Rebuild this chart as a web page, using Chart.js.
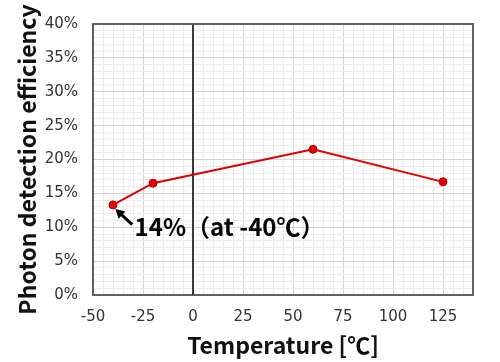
<!DOCTYPE html>
<html>
<head>
<meta charset="utf-8">
<script src="https://cdn.jsdelivr.net/npm/chart.js@4/dist/chart.umd.min.js"></script>
<style>
  html, body { margin: 0; padding: 0; background: #fff; }
</style>
</head>
<body>
<canvas id="grafico" width="500" height="362"></canvas>
<script>
// values
const temperatures = [-40, -20, 60, 125];
const efficiency = [13.3, 16.5, 21.5, 16.7];   // %
const xTickLabels = [-50, -25, 0, 25, 50, 75, 100, 125];
const yTickLabels = [0, 5, 10, 15, 20, 25, 30, 35, 40];

// note next to the first point (data coordinates)
const noteText = '14%（at -40℃）';
const notePos = { x: -29.2, y: 10.0 };
const arrowFrom = { x: -30.4, y: 10.4 };
const arrowTo = { x: -38.8, y: 12.7 };

// dark zero line and top/right frame, drawn over the light grid
const framePlugin = {
    id: 'frame',
    beforeDatasetsDraw(chart) {
        const { ctx, chartArea: a, scales: { x } } = chart;
        const x0 = Math.round(x.getPixelForValue(0));
        ctx.save();
        ctx.lineWidth = 2;
        ctx.strokeStyle = '#3a3a3a';
        ctx.beginPath();
        ctx.moveTo(x0, a.top);
        ctx.lineTo(x0, a.bottom);
        ctx.stroke();
        ctx.strokeStyle = '#606060';
        ctx.beginPath();
        ctx.moveTo(a.left, a.top);
        ctx.lineTo(a.right, a.top);
        ctx.lineTo(a.right, a.bottom);
        ctx.stroke();
        ctx.restore();
    }
};

const notePlugin = {
    id: 'note',
    afterDatasetsDraw(chart) {
        const { ctx, scales: { x, y } } = chart;
        const x1 = x.getPixelForValue(arrowFrom.x), y1 = y.getPixelForValue(arrowFrom.y);
        const x2 = x.getPixelForValue(arrowTo.x), y2 = y.getPixelForValue(arrowTo.y);
        const ang = Math.atan2(y2 - y1, x2 - x1);
        ctx.save();
        ctx.strokeStyle = '#000';
        ctx.fillStyle = '#000';
        ctx.lineWidth = 3;
        ctx.beginPath();
        ctx.moveTo(x1, y1);
        ctx.lineTo(x2 - 5 * Math.cos(ang), y2 - 5 * Math.sin(ang));
        ctx.stroke();
        ctx.beginPath();
        ctx.moveTo(x2, y2);
        ctx.lineTo(x2 - 9 * Math.cos(ang) + 5 * Math.sin(ang), y2 - 9 * Math.sin(ang) - 5 * Math.cos(ang));
        ctx.lineTo(x2 - 9 * Math.cos(ang) - 5 * Math.sin(ang), y2 - 9 * Math.sin(ang) + 5 * Math.cos(ang));
        ctx.closePath();
        ctx.fill();

        ctx.font = 'bold 24px "Noto Sans CJK JP", "Noto Sans", sans-serif';
        ctx.textAlign = 'left';
        ctx.textBaseline = 'middle';
        ctx.fillText(noteText, x.getPixelForValue(notePos.x), y.getPixelForValue(notePos.y));
        ctx.restore();
    }
};

const titleFont = { family: '"Noto Sans CJK JP", "Noto Sans", sans-serif', size: 23, weight: 'bold', lineHeight: 1.2 };
const tickFont = { family: '"DejaVu Sans", Verdana, sans-serif', size: 15 };

const ctx = document.getElementById('grafico').getContext('2d');
new Chart(ctx, {
    type: 'line',
    data: {
        datasets: [{
            label: 'Photon detection efficiency',
            data: temperatures.map((t, i) => ({ x: t, y: efficiency[i] })),
            borderColor: '#e00000',
            backgroundColor: '#e60000',
            pointBorderColor: '#b00000',
            pointBorderWidth: 1,
            pointRadius: 4,
            borderWidth: 2,
            tension: 0,
            fill: false
        }]
    },
    options: {
        responsive: false,
        animation: false,
        devicePixelRatio: 1,
        layout: { padding: { top: 21, right: 27, left: 0, bottom: 0 } },
        plugins: {
            legend: { display: false },
            tooltip: { enabled: false }
        },
        scales: {
            x: {
                type: 'linear',
                min: -50,
                max: 140,
                afterFit: s => { s.height = 67; },
                ticks: {
                    stepSize: 5,
                    autoSkip: false,
                    maxRotation: 0,
                    padding: 13,
                    color: '#333',
                    font: tickFont,
                    callback: v => xTickLabels.includes(v) ? String(v) : ''
                },
                grid: {
                    drawTicks: false,
                    color: c => c.tick.value % 25 === 0 ? '#d4d4d4' : '#ececec'
                },
                border: { color: '#606060', width: 2 },
                title: {
                    display: true,
                    text: 'Temperature [℃]',
                    color: '#111',
                    font: titleFont,
                    padding: { top: 0, bottom: 3 }
                }
            },
            y: {
                min: 0,
                max: 40,
                afterFit: s => { s.width = 93; },
                ticks: {
                    stepSize: 1,
                    autoSkip: false,
                    padding: 15,
                    color: '#333',
                    font: tickFont,
                    callback: v => yTickLabels.includes(v) ? v + '%' : ''
                },
                grid: {
                    drawTicks: false,
                    color: c => c.tick.value % 5 === 0 ? '#d4d4d4' : '#ececec'
                },
                border: { color: '#606060', width: 2 },
                title: {
                    display: true,
                    text: 'Photon detection efficiency',
                    color: '#111',
                    font: titleFont,
                    padding: { top: 13, bottom: 0 }
                }
            }
        }
    },
    plugins: [framePlugin, notePlugin]
});
</script>
</body>
</html>
